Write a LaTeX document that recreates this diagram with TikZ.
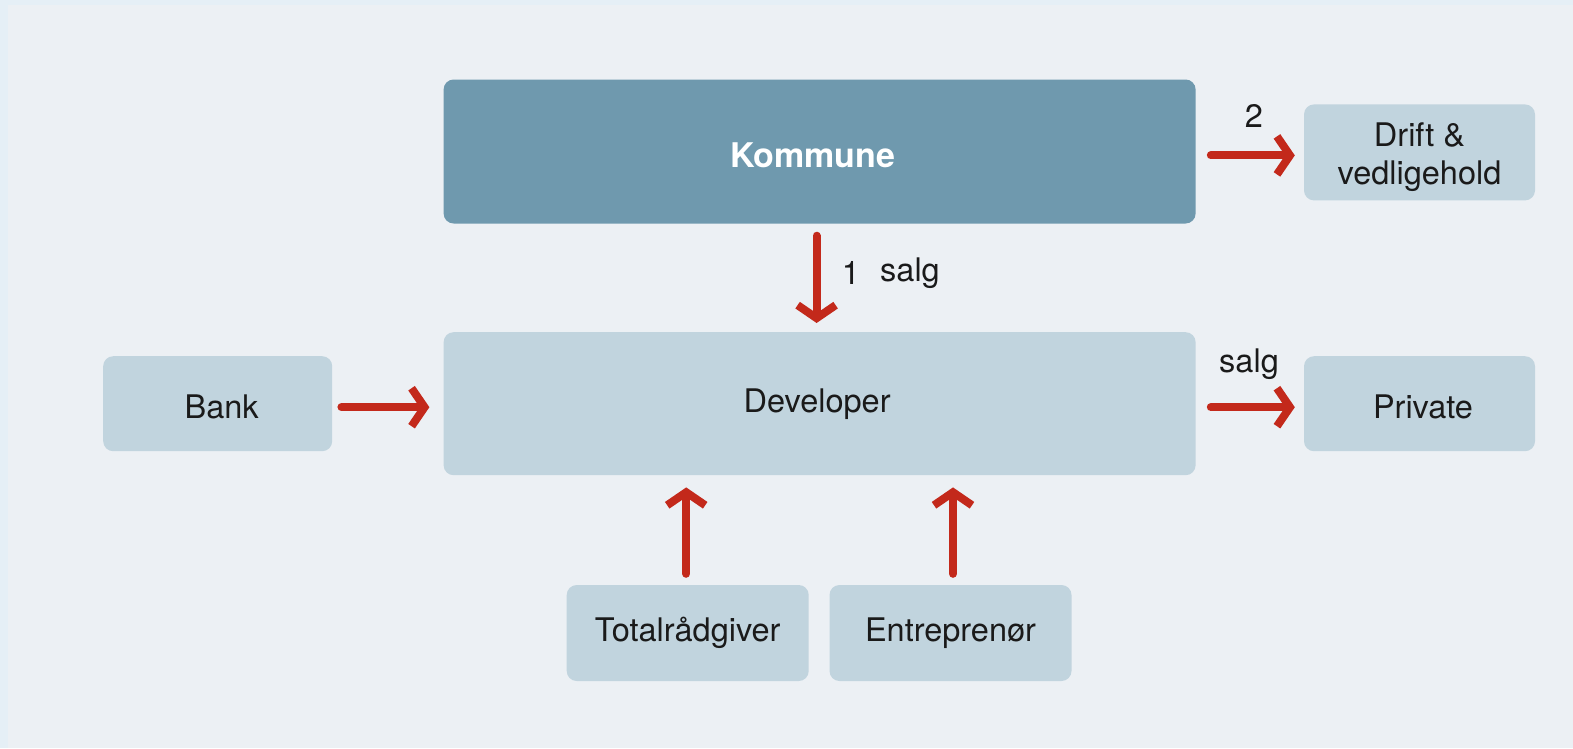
\documentclass[tikz,border=0pt]{standalone}
\usepackage{fontspec}
\setmainfont{TeX Gyre Heros}
\usetikzlibrary{arrows.meta}
\definecolor{pageblue}{HTML}{E5EFF6}
\definecolor{panel}{HTML}{ECF0F4}
\definecolor{darkbox}{HTML}{6F99AE}
\definecolor{lightbox}{HTML}{C1D4DE}
\definecolor{flowred}{HTML}{C3291B}
\definecolor{ink}{HTML}{1A1A1A}
% strut that lowers a centred text line by half of (#1 - normal height)
\newcommand{\lowerby}[1]{\rule{0pt}{#1}}
\tikzset{
  box/.style={rectangle, rounded corners=10pt, fill=lightbox, text=ink,
    font=\fontsize{32.5}{38}\selectfont, align=center, inner sep=0pt},
  mainbox/.style={box, fill=darkbox, text=white,
    font=\fontsize{34}{38}\selectfont\bfseries},
  flow/.style={draw=flowred, line width=8pt, line cap=round,
    -{Straight Barb[length=13pt, width=38pt]}},
  lbl/.style={text=ink, font=\fontsize{32.5}{36}\selectfont, inner sep=0pt}
}
\begin{document}
\begin{tikzpicture}[x=1pt, y=-1pt]
  % page and panel
  \fill[pageblue] (0,0) rectangle (1573,748);
  \fill[panel] (8,5) rectangle (1573,748);
  \useasboundingbox (0,0) rectangle (1573,748);

  % boxes
  \node[mainbox, minimum width=752pt, minimum height=144pt] (kom) at (819.6,151.5) {\lowerby{32pt}Kommune\hspace*{14pt}};
  \node[box, minimum width=752pt, minimum height=143pt] (dev) at (819.6,403.7) {Developer\hspace*{5pt}};
  \node[box, minimum width=229pt, minimum height=95pt] (bank) at (217.7,403.7) {\hspace*{8pt}\lowerby{30pt}Bank};
  \node[box, minimum width=231pt, minimum height=96pt] (drift) at (1419.5,152.4) {\lowerby{33pt}Drift \&\\vedligehold};
  \node[box, minimum width=231pt, minimum height=95pt] (priv) at (1419.5,403.7) {\hspace*{7pt}\lowerby{30pt}Private};
  \node[box, minimum width=242pt, minimum height=96pt] (tot) at (687.7,633) {Totalrådgiver};
  \node[box, minimum width=242pt, minimum height=96pt] (ent) at (950.5,633) {Entreprenør};

  % flows (the y axis points down, so a negative yshift lowers a line)
  \draw[flow, shorten <=12pt, shorten >=9pt] ([xshift=-3pt]kom.south) -- ([xshift=-3pt]kom.south |- dev.north);
  \draw[flow, shorten <=15pt, shorten >=9pt] ([yshift=-3pt]kom.east |- drift.west) -- ([yshift=-3pt]drift.west);
  \draw[flow, shorten <=9pt, shorten >=14pt] ([yshift=-3.5pt]bank.east) -- ([yshift=-3.5pt]dev.west |- bank.east);
  \draw[flow, shorten <=15pt, shorten >=9pt] ([yshift=-3.5pt]dev.east |- priv.west) -- ([yshift=-3.5pt]priv.west);
  \draw[flow, shorten <=11pt, shorten >=12pt] ([xshift=-1.5pt]tot.north) -- ([xshift=-1.5pt]tot.north |- dev.south);
  \draw[flow, shorten <=11pt, shorten >=12pt] ([xshift=2.5pt]ent.north) -- ([xshift=2.5pt]ent.north |- dev.south);

  % flow labels
  \node[lbl] (l2) at (1254,116.4) {2};
  \node[lbl] (l1) at (851,273) {1};
  \node[lbl] (ls1) at (910,273) {salg};
  \node[lbl] (ls2) at (1249,364) {salg};
\end{tikzpicture}
\end{document}
